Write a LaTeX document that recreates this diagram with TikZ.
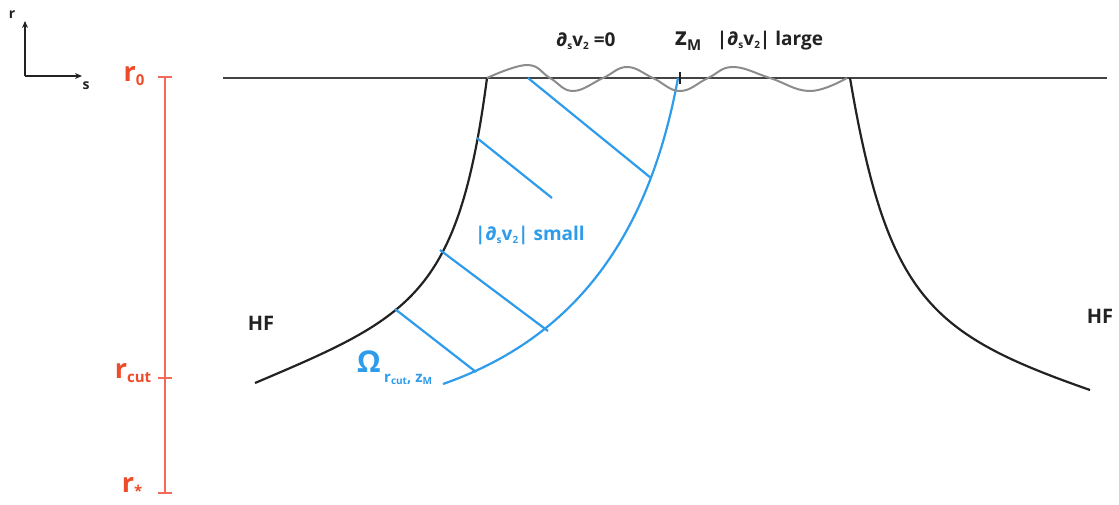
\documentclass[tikz,border=0pt]{standalone}
\usepackage{fontspec}
\setmainfont{Open Sans}
\usetikzlibrary{arrows.meta}
\definecolor{redtxt}{HTML}{EE4B2B}
\definecolor{redline}{HTML}{F26A58}
\definecolor{bluec}{HTML}{2E9CEB}
\definecolor{grayw}{HTML}{8C8C8C}
\definecolor{darkc}{HTML}{222222}
\newcommand\lsub[3]{\raisebox{-#2}{\fontsize{#3}{#3}\selectfont #1}}
\tikzset{
  lbl/.style={font=\bfseries, inner sep=0pt, text=darkc},
  redlbl/.style={font=\bfseries\fontsize{27}{27}\selectfont, inner sep=0pt, text=redtxt},
  bluelbl/.style={font=\bfseries, inner sep=0pt, text=bluec},
  blk/.style={draw=darkc, line width=2.2pt},
  blu/.style={draw=bluec, line width=2.2pt},
  redrule/.style={draw=redline, line width=1.2pt},
  axisarr/.style={draw=darkc, line width=1.4pt, -{Stealth[length=7pt,width=6pt]}},
}
\begin{document}
\begin{tikzpicture}[x=1pt,y=-1pt]
\useasboundingbox (0,0) rectangle (1119,504);
% axes
\coordinate (o) at (25,76);
\coordinate (rt) at (25,21);
\coordinate (st) at (82,76);
\draw[axisarr] (o) -- (rt);
\draw[axisarr] (o) -- (st);
\node[lbl, font=\bfseries\fontsize{14}{14}\selectfont] (rl) at (12,15) {r};
\node[lbl, font=\bfseries\fontsize{14}{14}\selectfont] (sl) at (86,86) {s};
% red scale
\coordinate (rtop) at (165,77);
\coordinate (rcutp) at (165,378);
\coordinate (rbot) at (165,493);
\draw[redrule] (rtop) -- (rbot);
\draw[redrule] ([xshift=-7pt]rtop) -- ([xshift=7pt]rtop);
\draw[redrule] ([xshift=-7pt]rcutp) -- ([xshift=7pt]rcutp);
\draw[redrule] ([xshift=-7pt]rbot) -- ([xshift=7pt]rbot);
\node[redlbl] (r0) at (134,76) {r\lsub{0}{4pt}{15}};
\node[redlbl] (rcut) at (133,373) {r\lsub{cut}{4pt}{15}};
\node[redlbl] (rstar) at (132,487) {r\lsub{*}{4pt}{15}};
% horizontal line
\coordinate (hl) at (223,78);
\coordinate (hr) at (1107,78);
\draw[draw=darkc!85, line width=2pt] (hl) -- (hr);
% left black curve
\draw[blk] (487,78) .. controls (458.4,295.8) and (411.4,316.7) .. (255,383);
% right black curve
\draw[blk] (850,78) .. controls (887.4,298) and (930,334) .. (1090,390);
% blue curve
\draw[blu] (678,78) .. controls (651,225) and (584,334.5) .. (443,384);
% blue lines
\draw[blu] (528,78) -- (651,178);
\draw[blu] (477,138) -- (552,198);
\draw[blu] (440,250) -- (548,331);
\draw[blu] (395,309) -- (476,372);
% gray wave
\draw[draw=grayw, line width=2pt] plot[smooth, tension=0.7] coordinates {(487,78) (527,65) (550,78) (573,91) (603,78) (627,67) (653,78) (680,91) (708,78) (733,67) (770,78) (810,91) (847,78)};
% zM tick
\draw[draw=darkc, line width=1.5pt] (680,72) -- (680,84);
% labels
\node[lbl, font=\bfseries\fontsize{19}{19}\selectfont] (d0) at (586,41) {∂\lsub{s}{3pt}{10}v\lsub{2}{3pt}{10} =0};
\node[lbl, font=\bfseries\fontsize{25}{25}\selectfont] (zm) at (688,41) {z\lsub{M}{5pt}{15}};
\node[lbl, font=\bfseries\fontsize{19}{19}\selectfont] (large) at (770,41) {|∂\lsub{s}{3pt}{10}v\lsub{2}{3pt}{10}| large};
\node[bluelbl, font=\bfseries\fontsize{19}{19}\selectfont] (small) at (530,235) {|∂\lsub{s}{3pt}{10}v\lsub{2}{3pt}{10}| small};
\node[bluelbl, font=\bfseries\fontsize{30}{30}\selectfont] (om) at (369,362) {Ω};
\node[bluelbl, font=\bfseries\fontsize{15}{15}\selectfont, anchor=west] (omsub) at (384,379) {r\lsub{cut}{2pt}{10}, z\lsub{M}{2pt}{10}};
\node[lbl, font=\bfseries\fontsize{20}{20}\selectfont] (hf1) at (261,323) {HF};
\node[lbl, font=\bfseries\fontsize{20}{20}\selectfont] (hf2) at (1100,316) {HF};
\end{tikzpicture}
\end{document}
